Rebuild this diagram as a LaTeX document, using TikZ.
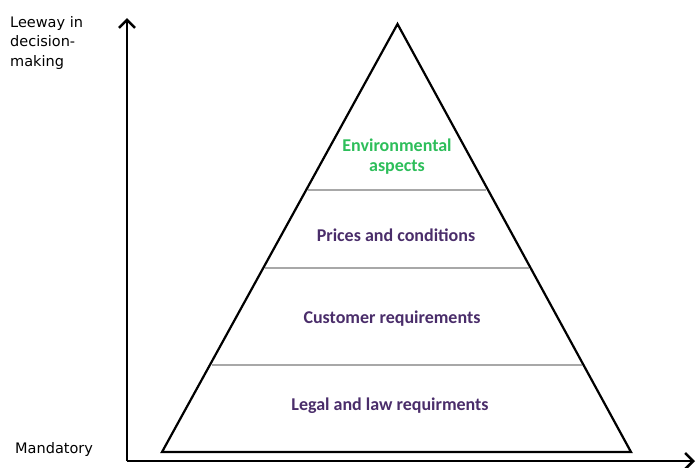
\documentclass[tikz,border=0pt]{standalone}
\usepackage{fontspec}
\setmainfont{DejaVu Sans}
\newfontfamily\calib{Carlito}
\usetikzlibrary{arrows.meta}
\definecolor{lvlpurple}{HTML}{4A2D6A}
\definecolor{lvlgreen}{HTML}{2DBE5A}
\definecolor{sepgray}{HTML}{A8A8A8}
\begin{document}
\begin{tikzpicture}[x=1pt,y=-1pt,
  axis/.style={line width=2.6pt,-{Straight Barb[length=8pt,width=16pt,line width=2.6pt]}},
  tri/.style={line width=2.2pt,line join=miter},
  sep/.style={line width=2pt,draw=sepgray},
  lvl/.style={font=\calib\bfseries\fontsize{18}{20}\selectfont,text=lvlpurple,align=center},
  side/.style={font=\fontsize{14.5}{19.5}\selectfont,align=left,inner sep=0pt}]
\useasboundingbox (0,0) rectangle (696,467);
% axes
\coordinate (o) at (127,461);
\coordinate (ytop) at (127,18);
\coordinate (xend) at (695,461);
\draw[axis] (o) -- (ytop);
\draw[axis] (o) -- (xend);
% triangle
\coordinate (apex) at (397.5,24);
\coordinate (bl) at (162,452);
\coordinate (br) at (631,452);
\draw[tri] (apex) -- (bl) -- (br) -- cycle;
% separators
\foreach \yy/\nm in {190/a,268/b,365/c}{
  \path (apex) -- (bl) coordinate[pos={(\yy-24)/428}] (l\nm);
  \path (apex) -- (br) coordinate[pos={(\yy-24)/428}] (r\nm);
  \draw[sep] ([xshift=2pt]l\nm) -- ([xshift=-2pt]r\nm);
}
% levels
\node[lvl,text=lvlgreen] (env) at (397,157) {Environmental\\aspects};
\node[lvl] (price) at (396,235) {Prices and conditions};
\node[lvl] (cust) at (392,319) {Customer requirements};
\node[lvl] (legal) at (390,406) {Legal and law requirments};
% side labels
\node[side,anchor=base west] (leeway) at (10,66) {Leeway in\\decision-\\making};
\node[side,anchor=base west] (mand) at (15,453) {Mandatory};
\end{tikzpicture}
\end{document}
